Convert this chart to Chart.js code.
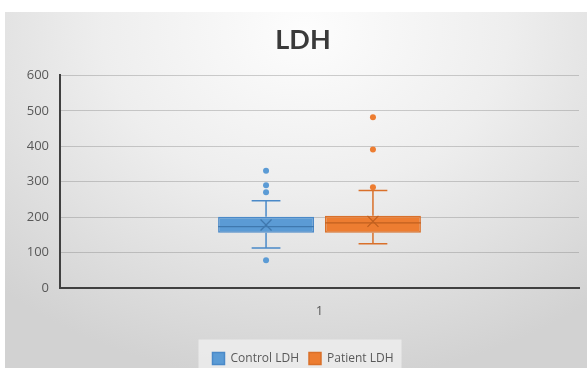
<!DOCTYPE html>
<html><head><meta charset="utf-8">
<script src="https://cdn.jsdelivr.net/npm/chart.js@4.4.0/dist/chart.umd.min.js"></script>
<style>
html,body{margin:0;padding:0;background:#fff;width:587px;height:368px;overflow:hidden}
#bg{position:absolute;left:5px;top:12px;width:600px;height:370px;
 background:radial-gradient(ellipse 75% 95% at 50% 5%, #fdfdfd 0%, #eeeeee 45%, #d2d2d2 100%);}
#wrap{position:absolute;left:0;top:0;width:587px;height:368px}
</style></head>
<body><div id="bg"></div><div id="wrap"><canvas id="c" width="587" height="368"></canvas></div>
<script>
const categories = ['1'];
const seriesNames = ['Control LDH', 'Patient LDH'];
const q1 = [156, 156];
const median = [173, 184];
const q3 = [201, 204];
const mean = [178, 188];
const whiskerLow = [113, 125];
const whiskerHigh = [246, 275];
const outliers = [[331, 290, 270, 78], [482, 391, 284]];
const yTicks = [0, 100, 200, 300, 400, 500, 600];

const fillColors = ['#5B9BD5', '#ED7D31'];
const lineColors = ['#4A89C8', '#D9702A'];
const darkColors = ['#3F78AE', '#C0601F'];

const boxPlugin = {
  id: 'boxExtras',
  beforeDraw(chart) {
    const lg = chart.legend;
    if (!lg || !lg.legendHitBoxes || !lg.legendHitBoxes.length) return;
    const hb = lg.legendHitBoxes;
    const left = hb[0].left - 14;
    const right = hb[hb.length - 1].left + hb[hb.length - 1].width + 8;
    const top = hb[0].top - 13;
    const ctx = chart.ctx;
    ctx.save();
    ctx.fillStyle = 'rgba(240,240,240,0.75)';
    ctx.fillRect(left, top, right - left, 400);
    ctx.restore();
  },
  afterDatasetsDraw(chart) {
    const ctx = chart.ctx;
    const y = chart.scales.y;
    chart.data.datasets.forEach((ds, i) => {
      const meta = chart.getDatasetMeta(i);
      if (meta.hidden) return;
      meta.data.forEach((bar, j) => {
        const cx = bar.x;
        const w = bar.width;
        const cap = w * 0.15;
        ctx.save();
        ctx.strokeStyle = lineColors[i];
        ctx.lineWidth = 1.5;
        ctx.beginPath();
        ctx.moveTo(cx, y.getPixelForValue(q3[i]));
        ctx.lineTo(cx, y.getPixelForValue(whiskerHigh[i]));
        ctx.moveTo(cx, y.getPixelForValue(q1[i]));
        ctx.lineTo(cx, y.getPixelForValue(whiskerLow[i]));
        ctx.moveTo(cx - cap, y.getPixelForValue(whiskerHigh[i]));
        ctx.lineTo(cx + cap, y.getPixelForValue(whiskerHigh[i]));
        ctx.moveTo(cx - cap, y.getPixelForValue(whiskerLow[i]));
        ctx.lineTo(cx + cap, y.getPixelForValue(whiskerLow[i]));
        ctx.stroke();
        ctx.strokeStyle = darkColors[i];
        ctx.lineWidth = 1.2;
        ctx.beginPath();
        const my = y.getPixelForValue(median[i]);
        ctx.moveTo(cx - w / 2, my);
        ctx.lineTo(cx + w / 2, my);
        ctx.stroke();
        const mY = y.getPixelForValue(mean[i]);
        const r = 5.5;
        ctx.lineWidth = 1.3;
        ctx.beginPath();
        ctx.moveTo(cx - r, mY - r); ctx.lineTo(cx + r, mY + r);
        ctx.moveTo(cx + r, mY - r); ctx.lineTo(cx - r, mY + r);
        ctx.stroke();
        ctx.fillStyle = fillColors[i];
        outliers[i].forEach(v => {
          ctx.beginPath();
          ctx.arc(cx, y.getPixelForValue(v), 3, 0, Math.PI * 2);
          ctx.fill();
        });
        ctx.restore();
      });
    });
  }
};

const datasets = seriesNames.map((name, i) => ({
  label: name,
  data: [[q1[i], q3[i]]],
  backgroundColor: fillColors[i],
  borderColor: lineColors[i],
  borderWidth: 1.5,
  borderSkipped: false,
  barPercentage: 0.897,
  categoryPercentage: 0.412
}));

new Chart(document.getElementById('c'), {
  type: 'bar',
  data: { labels: categories, datasets },
  plugins: [boxPlugin],
  options: {
    responsive: false,
    animation: false,
    events: [],
    layout: { padding: { left: 27, right: 8, top: 12, bottom: -6.5 } },
    plugins: {
      tooltip: { enabled: false },
      title: {
        display: true, text: 'LDH', color: '#3a3a3a',
        font: { family: 'Lato', size: 27, weight: 'bold' },
        padding: { top: 12, bottom: 19 }
      },
      legend: {
        position: 'bottom',
        labels: {
          boxWidth: 12, boxHeight: 12, padding: 10,
          color: '#595959',
          font: { family: 'Open Sans', size: 12 }
        }
      }
    },
    scales: {
      x: {
        grid: { display: false },
        border: { display: true, color: '#404040', width: 2 },
        ticks: { color: '#595959', font: { family: 'Open Sans', size: 13 }, padding: 7 },
        afterFit(s) { s.height = 54.5; }
      },
      y: {
        min: 0, max: 600,
        afterBuildTicks(s) { s.ticks = yTicks.map(v => ({ value: v })); },
        grid: { color: 'rgba(120,120,120,0.35)', lineWidth: 1, drawTicks: false },
        border: { display: true, color: '#404040', width: 2 },
        ticks: { color: '#595959', font: { family: 'Open Sans', size: 13 }, padding: 11 },
        afterFit(s) { s.width = 33; }
      }
    }
  }
});
</script></body></html>
